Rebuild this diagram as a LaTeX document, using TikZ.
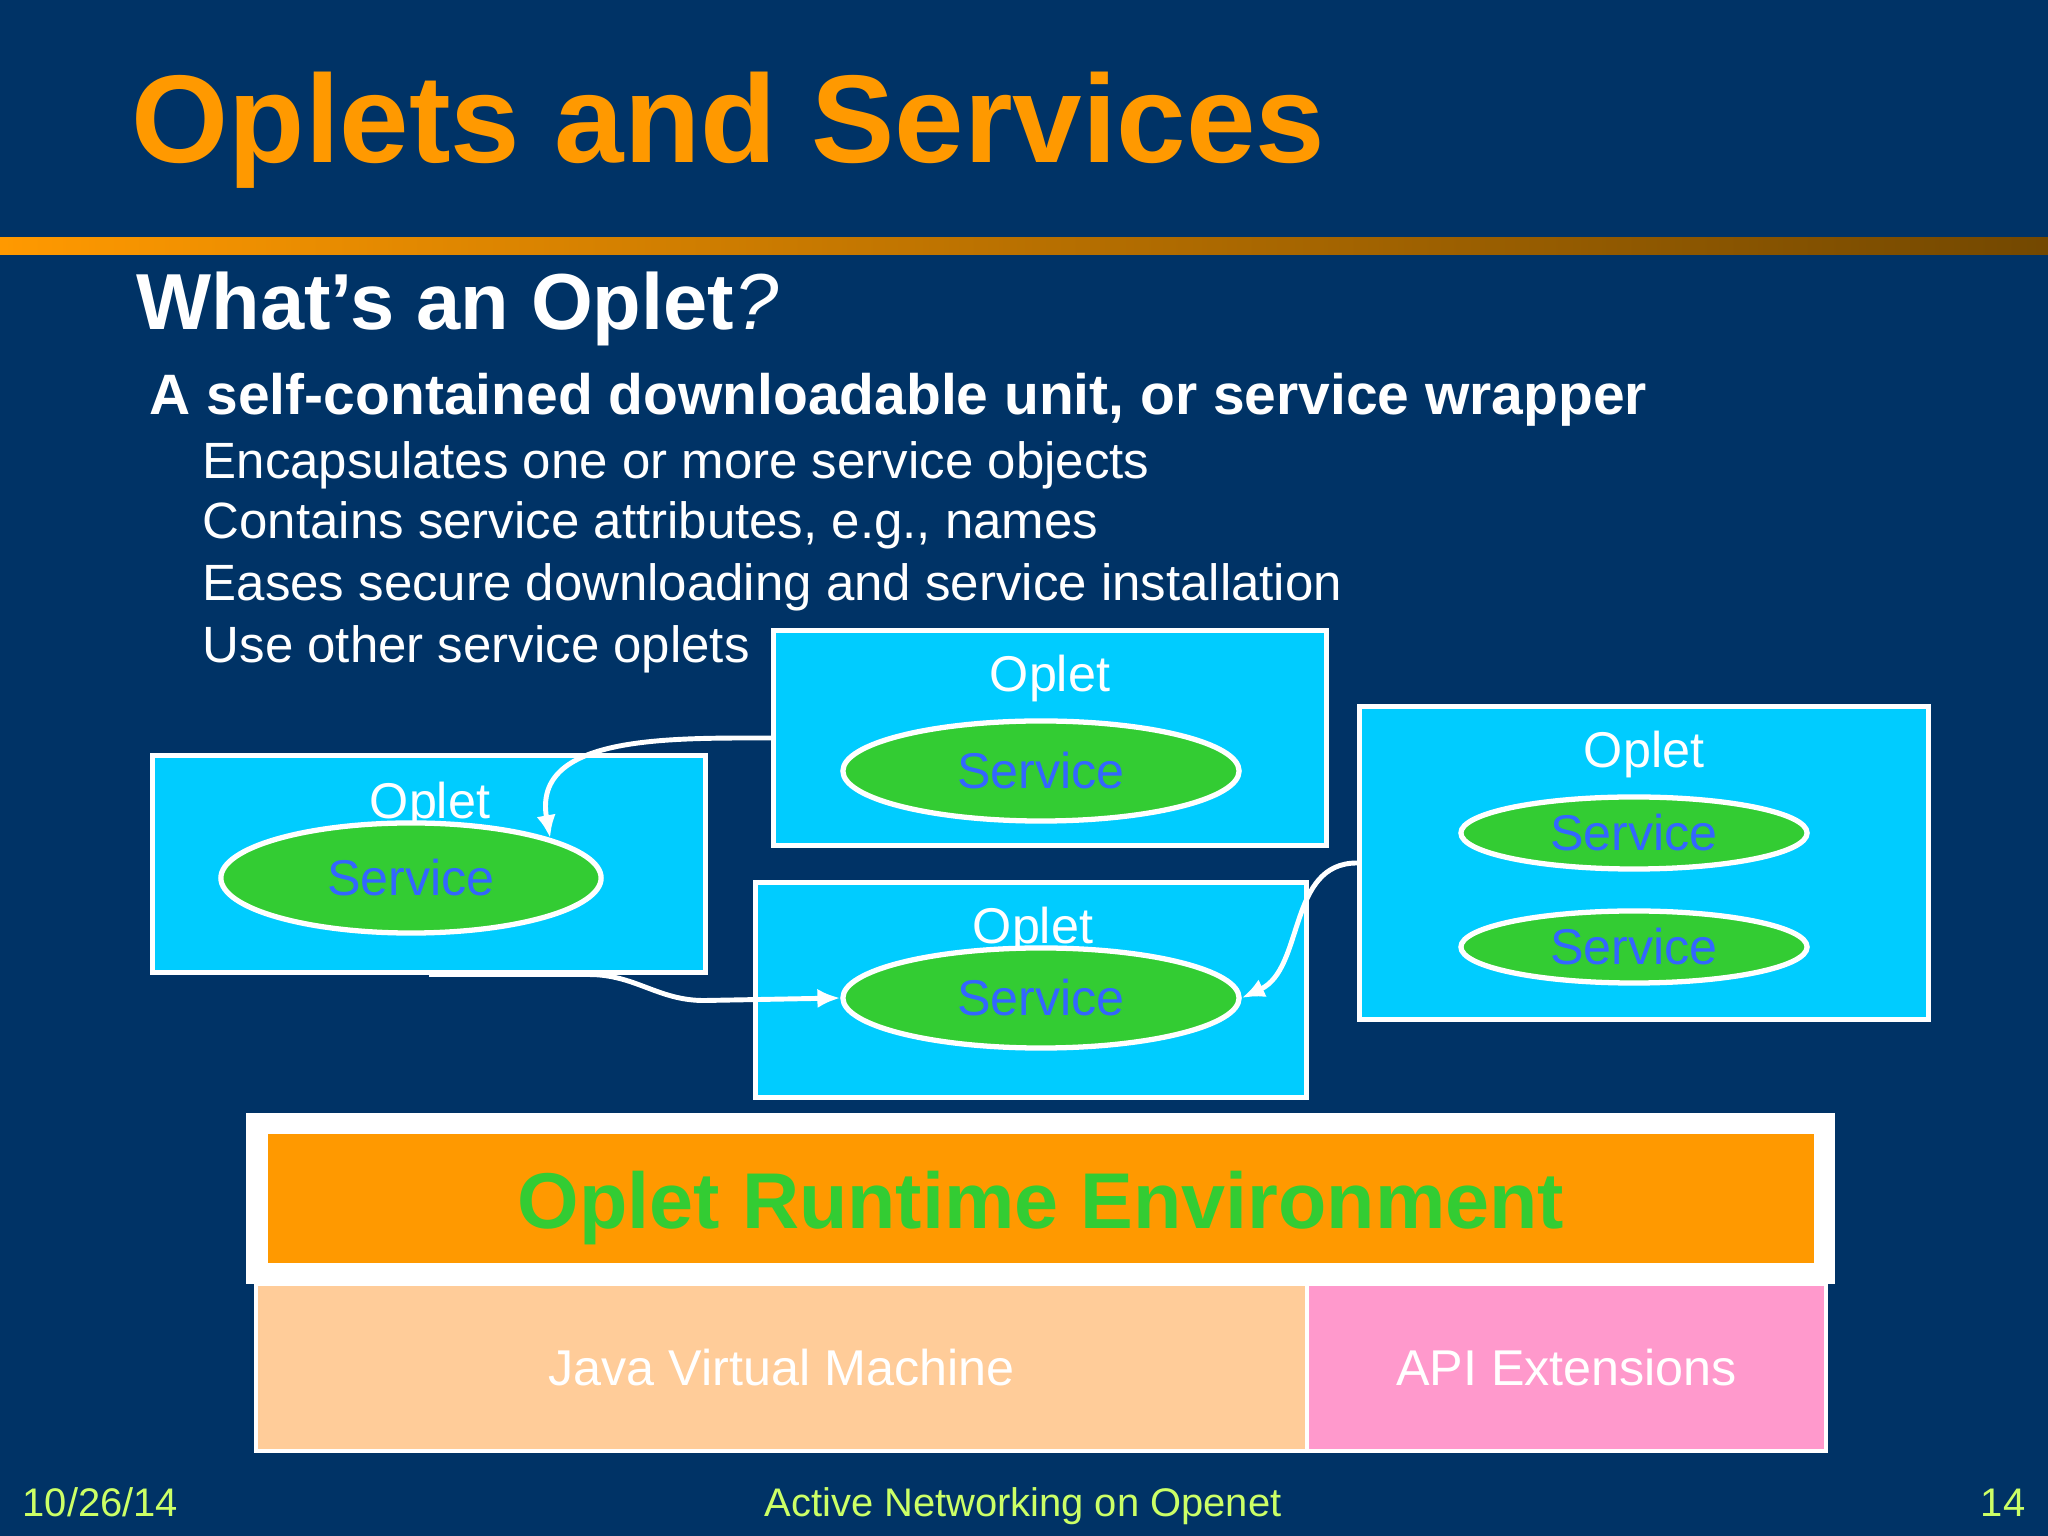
\documentclass[tikz,border=0pt]{standalone}
\usepackage{fontspec}
\setmainfont{Liberation Sans}
\usetikzlibrary{shapes.geometric, arrows.meta}
\definecolor{slidebg}{RGB}{0,51,102}
\definecolor{titleorange}{RGB}{255,153,0}
\definecolor{barbrown}{RGB}{115,72,0}
\definecolor{opletblue}{RGB}{0,204,255}
\definecolor{servicegreen}{RGB}{51,204,51}
\definecolor{serviceblue}{RGB}{51,102,255}
\definecolor{jvmpeach}{RGB}{255,204,153}
\definecolor{apipink}{RGB}{255,153,204}
\definecolor{footlime}{RGB}{204,255,102}

\begin{document}
\begin{tikzpicture}[x=0.01cm, y=0.01cm,
    oplet/.style={draw=white, line width=1.4pt, fill=opletblue, inner sep=0pt},
    opletlabel/.style={text=white, anchor=base, font=\fontsize{14.3}{17}\selectfont},
    service/.style={ellipse, draw=white, line width=1.5pt, fill=servicegreen, text=serviceblue,
        inner sep=0pt, font=\fontsize{14.3}{17}\selectfont},
    layer/.style={draw=white, line width=1.2pt, text=white, inner sep=0pt, font=\fontsize{14.3}{17}\selectfont},
    link/.style={white, line width=1.4pt, -{Latex[length=6.5pt,width=5.5pt]}},
    footer/.style={text=footlime, anchor=base, font=\fontsize{11.35}{13}\selectfont}]

    % background and title bar
    \fill [slidebg] (0,0) rectangle (2048,1536);
    \shade [left color=titleorange, right color=barbrown] (0,1281) rectangle (2048,1298);
    \node [anchor=base west, inner sep=0pt, text=titleorange, font=\fontsize{35.5}{40}\selectfont\bfseries]
        (title) at (131,1373) {Oplets and Services};

    % text
    \begin{scope}[text=white, inner sep=0pt]
        \node [anchor=base west, font=\fontsize{22.6}{28}\selectfont\bfseries] (head) at (136,1206)
            {What’s an Oplet{\mdseries\itshape ?}};
        \node [anchor=base west, font=\fontsize{16.2}{20}\selectfont\bfseries] (lead) at (149,1121)
            {A self-contained downloadable unit, or service wrapper};
        \node [anchor=base west, font=\fontsize{14.5}{18}\selectfont] (item1) at (202,1057)
            {Encapsulates one or more service objects};
        \node [anchor=base west, font=\fontsize{14.5}{18}\selectfont] (item2) at (202,997)
            {Contains service attributes, e.g., names};
        \node [anchor=base west, font=\fontsize{14.5}{18}\selectfont] (item3) at (202,935)
            {Eases secure downloading and service installation};
        \node [anchor=base west, font=\fontsize{14.5}{18}\selectfont] (item4) at (202,873)
            {Use other service oplets};
    \end{scope}

    % oplets
    \node [oplet, minimum width=5.52cm, minimum height=2.14cm] (oA) at (1050,798) {};
    \node [opletlabel] (lA) at (1050,844) {Oplet};
    \node [service, minimum width=3.96cm, minimum height=1.0cm] (sA) at (1041,765) {Service};

    \node [oplet, minimum width=5.52cm, minimum height=2.16cm] (oB) at (429,672) {};
    \node [opletlabel] (lB) at (430,717) {Oplet};
    \node [service, minimum width=3.8cm, minimum height=1.1cm] (sB) at (411,658) {Service};

    \node [oplet, minimum width=5.51cm, minimum height=2.14cm] (oC) at (1031,546) {};
    \node [opletlabel] (lC) at (1033,592) {Oplet};
    \node [service, minimum width=3.96cm, minimum height=1.0cm] (sC) at (1041,538) {Service};

    \node [oplet, minimum width=5.69cm, minimum height=3.12cm] (oD) at (1644,673) {};
    \node [opletlabel] (lD) at (1644,768) {Oplet};
    \node [service, minimum width=3.46cm, minimum height=0.72cm] (sD1) at (1634,703) {Service};
    \node [service, minimum width=3.46cm, minimum height=0.72cm] (sD2) at (1634,589) {Service};

    % links
    \draw [link] (oA.west) to[out=180, in=100, looseness=1.1] (sB.16);
    \draw [link] (oB.south) -- ++(160,0) to[out=0, in=180] ++(115,-26) -- (sC.west);
    \draw [link] (oD.west) to[out=180, in=25] (sC.east);

    % runtime stack
    \node [layer, fill=jvmpeach, minimum width=10.51cm, minimum height=1.67cm] (jvm) at (781.5,168.5)
        {Java Virtual Machine};
    \node [layer, fill=apipink, minimum width=5.19cm, minimum height=1.67cm] (api) at (1566.5,168.5)
        {API Extensions};
    \node [fill=white, minimum width=15.89cm, minimum height=1.71cm, inner sep=0pt] (ore) at (1040.5,337.5) {};
    \node [fill=titleorange, minimum width=15.46cm, minimum height=1.29cm, inner sep=0pt] (oreBar) at (1041,337.5) {};
    \node [anchor=base, inner sep=0pt, text=servicegreen, font=\fontsize{22.5}{26}\selectfont\bfseries]
        (oreText) at (1041,307) {Oplet Runtime Environment};

    % footer
    \node [footer, anchor=base west, inner sep=0pt] (date) at (22,20) {10/26/14};
    \node [footer, inner sep=0pt] (talk) at (1023,20) {Active Networking on Openet};
    \node [footer, anchor=base east, inner sep=0pt] (page) at (2026,20) {14};
\end{tikzpicture}
\end{document}
